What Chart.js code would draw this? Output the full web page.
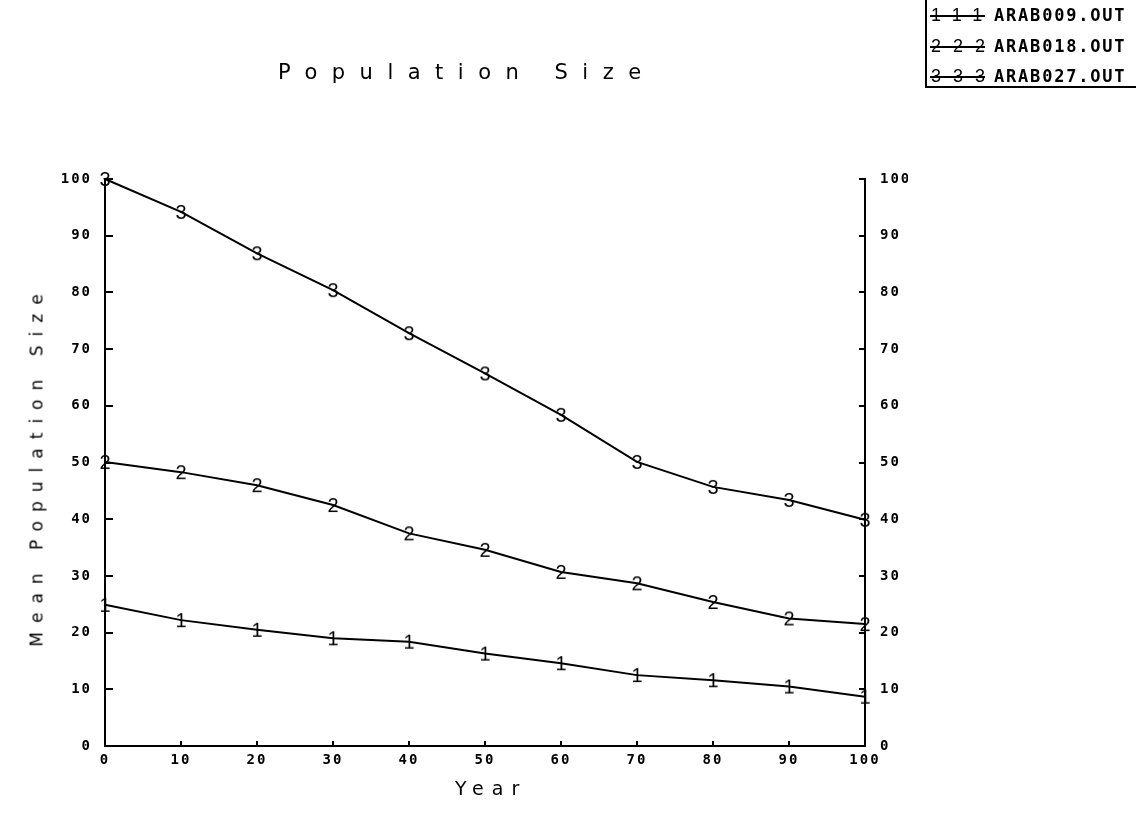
<!DOCTYPE html>
<html>
<head>
<meta charset="utf-8">
<title>Population Size</title>
<script src="https://cdn.jsdelivr.net/npm/chart.js@4.4.0/dist/chart.umd.min.js"></script>
<style>
  body { margin: 0; background: #fff; }
  #wrap { position: relative; width: 1136px; height: 824px; overflow: hidden; }
  #grafico { position: absolute; left: 0; top: 0; }
  .texto { position: absolute; font-family: "DejaVu Sans", sans-serif; color: #000; white-space: nowrap; line-height: 1; }
  #titulo { left: 278px; top: 62px; font-size: 21px; letter-spacing: 14.5px; }
  #tituloX { left: 455px; top: 779px; font-size: 19px; letter-spacing: 8px; }
  #tituloY { left: 37px; top: 466px; font-size: 17px; letter-spacing: 9px; transform: translate(-50%, -50%) rotate(-90deg); }
  #leyenda { position: absolute; left: 925px; top: 0; width: 211px; height: 86px; border-left: 2px solid #000; border-bottom: 2px solid #000; }
  .fila { position: absolute; left: 3px; height: 20px; }
  .muestra { position: absolute; left: 0; top: 0; width: 55px; height: 20px;
    background: linear-gradient(#000, #000) no-repeat 0 10px / 55px 2px;
    font-family: "Liberation Sans", sans-serif; font-size: 18px; line-height: 20px; letter-spacing: 12px; padding-left: 1px; }
  .nombre { position: absolute; left: 64px; top: 0; font-family: "DejaVu Sans Mono", monospace; font-weight: bold; font-size: 17px; line-height: 20px; letter-spacing: 1.8px; }
</style>
</head>
<body>
<div id="wrap">
  <canvas id="grafico" width="1136" height="824"></canvas>
  <div class="texto" id="titulo">Population Size</div>
  <div class="texto" id="tituloX">Year</div>
  <div class="texto" id="tituloY">Mean Population Size</div>
  <div id="leyenda"></div>
</div>
<script>
// años simulados y tamaño medio de población por corrida
const anios = [0, 10, 20, 30, 40, 50, 60, 70, 80, 90, 100];
const arab009 = [24.9, 22.2, 20.5, 19.0, 18.4, 16.3, 14.6, 12.5, 11.6, 10.5, 8.7];
const arab018 = [50.1, 48.3, 46.0, 42.5, 37.5, 34.6, 30.7, 28.7, 25.4, 22.5, 21.5];
const arab027 = [100, 94.2, 86.9, 80.4, 72.8, 65.7, 58.4, 50.1, 45.7, 43.4, 39.9];
const etiquetas = ['ARAB009.OUT', 'ARAB018.OUT', 'ARAB027.OUT'];
const marcadores = ['1', '2', '3'];
const series = [arab009, arab018, arab027];

// dibuja el numero de la serie como marcador del punto
function marcadorDigito(ch) {
  let c = document.createElement('canvas');
  c.width = 16;
  c.height = 22;
  let g = c.getContext('2d');
  g.fillStyle = '#000';
  g.font = '20px "Liberation Sans"';
  g.textAlign = 'center';
  g.textBaseline = 'alphabetic';
  g.fillText(ch, 8, 18);
  return c;
}

let datasets = [];
for (let i = 0; i < series.length; i++) {
  datasets.push({
    label: etiquetas[i],
    data: anios.map((a, j) => ({ x: a, y: series[i][j] })),
    borderColor: '#000',
    borderWidth: 2,
    tension: 0,
    pointStyle: marcadorDigito(marcadores[i]),
    pointRadius: 7,
    clip: false
  });
}

// leyenda en la esquina superior derecha
let leyenda = document.getElementById('leyenda');
let contLeyenda = '';
const filasY = [5, 36, 66];
for (let i = 0; i < etiquetas.length; i++) {
  contLeyenda += `
    <div class="fila" style="top:${filasY[i]}px">
      <span class="muestra">${marcadores[i].repeat(3)}</span>
      <span class="nombre">${etiquetas[i]}</span>
    </div>`;
}
leyenda.innerHTML = contLeyenda;

// espaciado entre letras de las etiquetas de los ejes
const espaciado = {
  id: 'espaciado',
  beforeUpdate(chart) { chart.ctx.letterSpacing = '2px'; },
  beforeDraw(chart) { chart.ctx.letterSpacing = '2px'; }
};

const fuenteTicks = { family: 'DejaVu Sans Mono', size: 14, weight: 'bold' };

function ejeY(posicion, largo) {
  return {
    type: 'linear',
    position: posicion,
    min: 0,
    max: 100,
    ticks: { stepSize: 10, padding: 21, color: '#000', font: fuenteTicks },
    grid: { drawOnChartArea: false, tickLength: largo, color: '#000', lineWidth: 2 },
    border: { display: true, color: '#000', width: 2 },
    afterFit(s) { s.width = 43; }
  };
}

const ctx = document.getElementById('grafico').getContext('2d');
const grafico = new Chart(ctx, {
  type: 'line',
  data: { datasets: datasets },
  options: {
    responsive: false,
    animation: false,
    devicePixelRatio: 1,
    layout: { padding: { left: 62, right: 228, top: 179, bottom: 58 } },
    plugins: { legend: { display: false }, title: { display: false }, tooltip: { enabled: false } },
    scales: {
      x: {
        type: 'linear',
        min: 0,
        max: 100,
        ticks: { stepSize: 10, padding: 11, color: '#000', font: fuenteTicks, maxRotation: 0 },
        grid: { drawOnChartArea: false, tickLength: -5, color: '#000', lineWidth: 2 },
        border: { display: true, color: '#000', width: 2 },
        afterFit(s) { s.height = 20; }
      },
      y: ejeY('left', -8),
      y2: ejeY('right', -6)
    }
  },
  plugins: [espaciado]
});
</script>
</body>
</html>
